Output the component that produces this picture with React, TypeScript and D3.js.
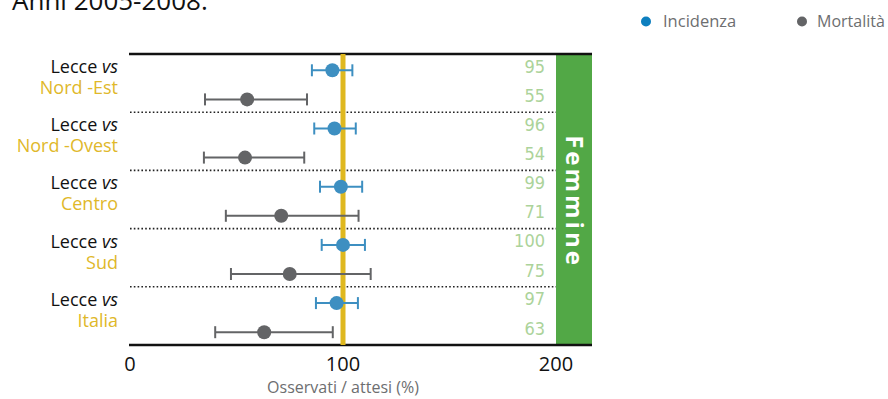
import React from "react";
import * as d3 from "d3";

const regions = ["Nord -Est", "Nord -Ovest", "Centro", "Sud", "Italia"];
const incValues = [95, 96, 99, 100, 97];
const incLow = [85.4, 86.5, 89.2, 90, 87.3];
const incHigh = [104.4, 106, 109, 110.3, 107];
const morValues = [55, 54, 71, 75, 63];
const morLow = [35.2, 34.7, 45, 47.4, 40];
const morHigh = [83.1, 81.8, 107.3, 113, 95.2];
const xTicks = [0, 100, 200];

const W = 888, H = 399;
const left = 130, right = 556, bandRight = 592;
const top = 54, bottom = 345;

export default function App() {
  const x = d3.scaleLinear().domain([0, 200]).range([left, right]);
  const rowH = (bottom - top) / regions.length;
  const y = d3.scaleBand().domain(regions).range([top, bottom]);
  const blue = "#3d8fc1";
  const gray = "#636466";
  const gold = "#e0b82a";
  const valColor = "#acd39a";
  const narrow = "'Liberation Sans Narrow', 'DejaVu Sans Condensed', sans-serif";
  const rows = regions.map((r, i) => ({ r, i, y0: y(r) as number }));
  return (
    <svg width={W} height={H} style={{ position: "absolute", left: 0, top: 0 }} fontFamily="'Open Sans', 'Noto Sans', sans-serif">
      <text x={12} y={10} fontSize={26} fill="#111">Anni 2005-2008.</text>
      {/* legend */}
      <circle cx={646} cy={21.5} r={5} fill="#0d7fbf" />
      <text x={663} y={27} fontSize={16.5} fill="#6d6e70">Incidenza</text>
      <circle cx={802} cy={21.5} r={5} fill={gray} />
      <text x={817} y={27} fontSize={16} fill="#6d6e70">Mortalità</text>
      {/* green band */}
      <rect x={right} y={top} width={bandRight - right} height={bottom - top} fill="#52a846" />
      <text transform={`translate(${(right + bandRight) / 2 + 1},${(top + bottom) / 2 + 2}) rotate(90)`} textAnchor="middle" dominantBaseline="central" fontSize={24} fontWeight="bold" fill="#fff" letterSpacing={3}>Femmine</text>
      {/* top & bottom lines */}
      <line x1={left - 1} x2={bandRight} y1={top} y2={top} stroke="#111" strokeWidth={2.5} />
      <line x1={left - 1} x2={bandRight} y1={bottom} y2={bottom} stroke="#111" strokeWidth={2.5} />
      {/* dotted separators */}
      {rows.slice(1).map(({ r, y0 }) => (
        <line key={r} x1={left} x2={right} y1={y0} y2={y0} stroke="#222" strokeWidth={1.6} strokeDasharray="1.6 2.2" />
      ))}
      {/* ref line */}
      <line x1={x(100)} x2={x(100)} y1={top} y2={bottom} stroke="#dfb81f" strokeWidth={5} />
      {rows.map(({ r, i, y0 }) => {
        const yi = y0 + rowH * 0.28;
        const ym = y0 + rowH * 0.78;
        return (
          <g key={r}>
            <text x={118} y={y0 + 19} textAnchor="end" fontSize={18} fill="#111">Lecce <tspan fontStyle="italic">vs</tspan></text>
            <text x={118} y={y0 + 40} textAnchor="end" fontSize={18} fill={gold}>{r}</text>
            {/* mortality */}
            <line x1={x(morLow[i])} x2={x(morHigh[i])} y1={ym} y2={ym} stroke={gray} strokeWidth={2} />
            <line x1={x(morLow[i])} x2={x(morLow[i])} y1={ym - 6} y2={ym + 6} stroke={gray} strokeWidth={2} />
            <line x1={x(morHigh[i])} x2={x(morHigh[i])} y1={ym - 6} y2={ym + 6} stroke={gray} strokeWidth={2} />
            <circle cx={x(morValues[i])} cy={ym} r={7} fill={gray} />
            {/* incidence */}
            <line x1={x(incLow[i])} x2={x(incHigh[i])} y1={yi} y2={yi} stroke={blue} strokeWidth={2} />
            <line x1={x(incLow[i])} x2={x(incLow[i])} y1={yi - 6} y2={yi + 6} stroke={blue} strokeWidth={2} />
            <line x1={x(incHigh[i])} x2={x(incHigh[i])} y1={yi - 6} y2={yi + 6} stroke={blue} strokeWidth={2} />
            <circle cx={x(incValues[i])} cy={yi} r={7} fill={blue} />
            {/* values */}
            <text x={545} y={y0 + 18.5} textAnchor="end" fontSize={18} fill={valColor} fontFamily={narrow} fontStretch="condensed">{incValues[i]}</text>
            <text x={545} y={y0 + 48} textAnchor="end" fontSize={18} fill={valColor} fontFamily={narrow} fontStretch="condensed">{morValues[i]}</text>
          </g>
        );
      })}
      {xTicks.map((t) => (
        <text key={t} x={x(t)} y={371} textAnchor="middle" fontSize={20} fill="#111">{t}</text>
      ))}
      <text x={x(100)} y={393} textAnchor="middle" fontSize={16} fill="#6d6e70">Osservati / attesi (%)</text>
    </svg>
  );
}
